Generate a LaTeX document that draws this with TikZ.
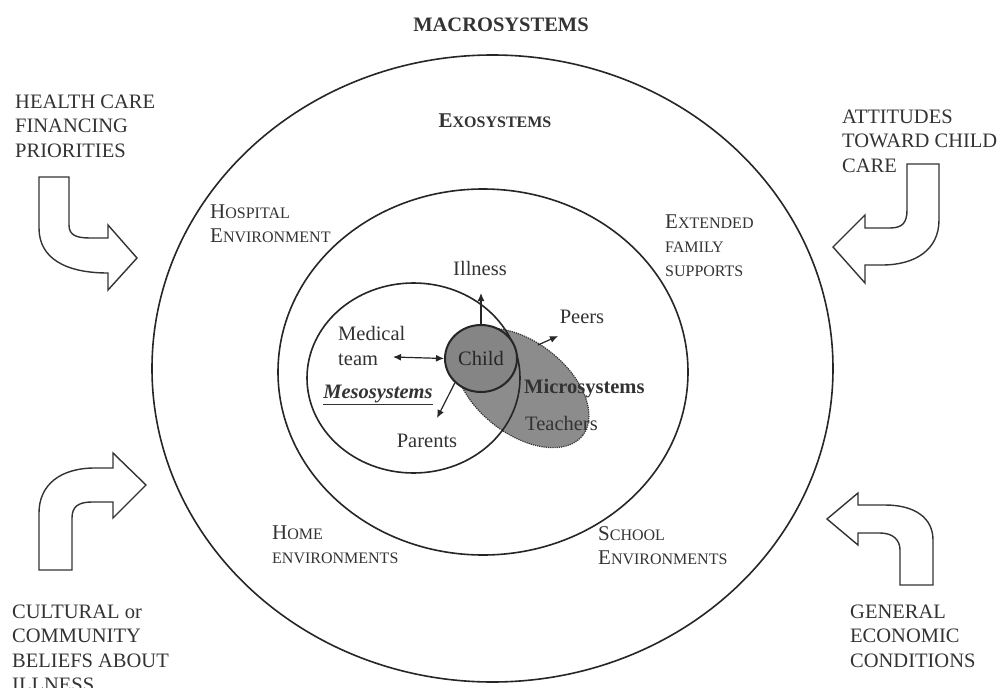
\documentclass[tikz,border=0pt]{standalone}
\usepackage{fontspec}
\setmainfont{Liberation Serif}
\usetikzlibrary{shapes.geometric,arrows.meta}
\colorlet{txt}{black!80}
\newcommand{\fsc}[2]{{\fontsize{21}{24}\selectfont #1}{\fontsize{16}{24}\selectfont #2}}
\begin{document}
\begin{tikzpicture}[x=1pt,y=1pt,
  ring/.style={draw=black!85, line width=1.6pt, ellipse, inner sep=0pt},
  lbl/.style={inner sep=0pt, text=txt, font=\fontsize{20.5}{24.5}\selectfont, align=left},
  sclbl/.style={inner sep=0pt, text=txt, align=left, font=\fontsize{16}{24}\selectfont},
  bigarrow/.style={draw=black!80, line width=1.4pt, fill=white},
  conn/.style={draw=black!85, line width=1.2pt, -{Latex[length=8pt,width=7pt]}},
]
\fill[white] (0,0) rectangle (1005,-688);
\useasboundingbox (0,0) rectangle (1005,-688);

% rings
\node[ring, minimum width=681pt, minimum height=627pt] (macro) at (492.5,-368.5) {};
\node[ring, minimum width=410pt, minimum height=366pt] (exo) at (483,-372) {};
\node[ellipse, inner sep=0pt, minimum width=154pt, minimum height=92pt, rotate=-38,
      fill=black!45, draw=black!80, densely dotted, line width=1.2pt] (micro) at (522,-388) {};
\node[ring, minimum width=213pt, minimum height=190pt] (meso) at (413.5,-378) {};
\node[ring, minimum width=72pt, minimum height=67pt, fill=black!48, line width=2pt,
      text=black!85, font=\fontsize{20.5}{24}\selectfont] (child) at (481,-358.5) {Child};

% connectors
\coordinate (illtip) at (481,-293);
\draw[conn] (child.north) -- (illtip);
\coordinate (peerfoot) at (538,-345);
\coordinate (peertip) at (558,-336);
\draw[conn] (peerfoot) -- (peertip);
\coordinate (medtip) at (393,-357);
\draw[conn, {Latex[length=8pt,width=7pt]}-{Latex[length=8pt,width=7pt]}] (medtip) -- (child.west);
\coordinate (partip) at (437,-418);
\draw[conn] (child.south west) -- (partip);

% big curved arrows
\draw[bigarrow] (39,-177) -- (69,-177) -- (69,-225) .. controls (69,-235) and (76,-238) .. (90,-238)
  -- (108,-238) -- (108,-225) -- (137,-258) -- (108,-290) -- (108,-273)
  .. controls (65,-273) and (39,-258) .. (39,-228) -- cycle;
\draw[bigarrow] (907,-164) -- (939,-164) -- (939,-220) .. controls (939,-250) and (915,-265) .. (882,-265)
  -- (865,-265) -- (865,-283) -- (833,-247) -- (865,-215) -- (865,-228) -- (890,-228)
  .. controls (903,-228) and (907,-222) .. (907,-210) -- cycle;
\draw[bigarrow] (39,-570) -- (72,-570) -- (72,-518) .. controls (72,-507) and (78,-502) .. (92,-502)
  -- (113,-502) -- (113,-518) -- (146,-485) -- (113,-453) -- (113,-468) -- (95,-468)
  .. controls (60,-468) and (39,-485) .. (39,-513) -- cycle;
\draw[bigarrow] (900,-585) -- (933,-585) -- (933,-540) .. controls (933,-518) and (915,-505) .. (885,-505)
  -- (858,-505) -- (858,-493) -- (827,-519) -- (858,-545) -- (858,-533) -- (880,-533)
  .. controls (893,-533) and (900,-540) .. (900,-550) -- cycle;

% system labels
\node[lbl, anchor=base, font=\bfseries\fontsize{20.5}{24}\selectfont] (macrolbl) at (501,-31) {MACROSYSTEMS};
\node[sclbl, anchor=base, font=\bfseries\fontsize{16}{24}\selectfont] (exolbl) at (495,-127) {\fsc{E}{XOSYSTEMS}};
\node[sclbl, anchor=north west] (hosp) at (210,-205) {\fsc{H}{OSPITAL}\\\fsc{E}{NVIRONMENT}};
\node[sclbl, anchor=north west] (ext) at (665,-215) {\fsc{E}{XTENDED}\\FAMILY\\SUPPORTS};
\node[sclbl, anchor=north west] (home) at (272,-526) {\fsc{H}{OME}\\ENVIRONMENTS};
\node[sclbl, anchor=north west] (school) at (598,-526) {\fsc{S}{CHOOL}\\\fsc{E}{NVIRONMENTS}};

% outer labels
\node[lbl, anchor=north west] (health) at (15,-94.4) {HEALTH CARE\\FINANCING\\PRIORITIES};
\node[lbl, anchor=north west, font=\fontsize{20.5}{24.8}\selectfont] (att) at (842,-109.4) {ATTITUDES\\TOWARD CHILD\\CARE};
\node[lbl, anchor=north west] (cult) at (12,-604.4) {CULTURAL or\\COMMUNITY\\BELIEFS ABOUT\\ILLNESS};
\node[lbl, anchor=north west] (gen) at (850,-604.4) {GENERAL\\ECONOMIC\\CONDITIONS};

% inner labels
\node[lbl, anchor=base] (ill) at (480,-275) {Illness};
\node[lbl, anchor=base] (peers) at (582,-323) {Peers};
\node[lbl, anchor=north west, font=\fontsize{20.5}{25}\selectfont] (med) at (338,-326) {Medical\\team};
\node[lbl, anchor=base, font=\bfseries\itshape\fontsize{20.5}{24}\selectfont] (mesolbl) at (378,-398) {\underline{Mesosystems}};
\node[lbl, anchor=base west, font=\bfseries\fontsize{20.5}{24}\selectfont] (microlbl) at (524,-393) {Microsystems};
\node[lbl, anchor=base west] (teach) at (525,-430) {Teachers};
\node[lbl, anchor=base] (par) at (427,-447) {Parents};
\end{tikzpicture}
\end{document}
